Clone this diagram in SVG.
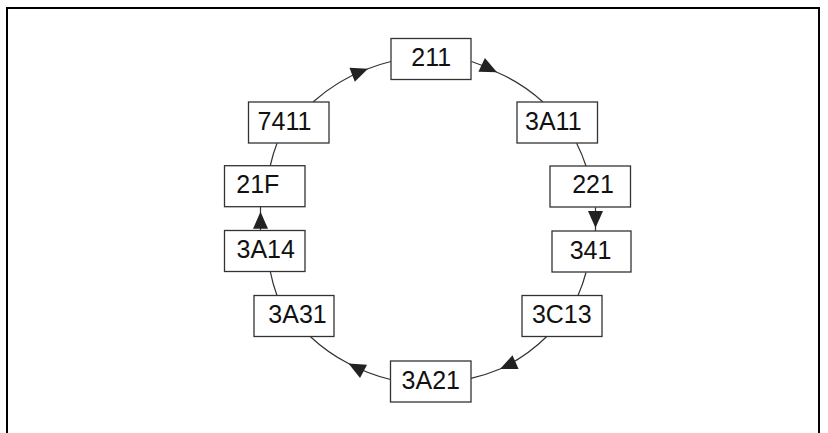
<svg xmlns="http://www.w3.org/2000/svg" width="828" height="433" viewBox="0 0 828 433">
<style>
.box{fill:#fff;stroke:#333;stroke-width:1.3}
.lbl{font-family:"Liberation Sans",Arial,sans-serif;font-size:25px;fill:#111;text-anchor:middle}
.con{fill:none;stroke:#333;stroke-width:1.2}
.frame{fill:none;stroke:#000;stroke-width:2}
</style>
<defs>
<marker id="ah" markerUnits="userSpaceOnUse" markerWidth="17" markerHeight="15" refX="17" refY="7.5" orient="auto" overflow="visible">
<path d="M0,0 L17,7.5 L0,15 z" fill="#222"/>
</marker>
</defs>
<rect width="828" height="433" fill="#fff"/>
<path class="frame" d="M7,440 L7,8 L819,8 L819,440"/>
<g id="connectors">
<path class="con" marker-mid="url(#ah)" d="M313,102 A168,161 0 0 1 368,68.7 A168,161 0 0 1 391,61.5"/>
<path class="con" marker-mid="url(#ah)" d="M471.5,61.5 A168,161 0 0 1 497,72.2 A168,161 0 0 1 543,102"/>
<path class="con" d="M576.6,143.3 A168,161 0 0 1 586,166"/>
<path class="con" marker-mid="url(#ah)" d="M595.5,207.3 L595.5,228 L595.5,231"/>
<path class="con" d="M586,272.5 A168,161 0 0 1 578,295.5"/>
<path class="con" marker-mid="url(#ah)" d="M546.5,336.7 A168,161 0 0 1 500,369 A168,161 0 0 1 471,378.3"/>
<path class="con" marker-mid="url(#ah)" d="M390.5,379.5 A168,161 0 0 1 348.5,363.5 A168,161 0 0 1 310.5,336.7"/>
<path class="con" d="M277,295.5 A168,161 0 0 1 270.3,271.7"/>
<path class="con" marker-mid="url(#ah)" d="M260.5,230 L260.5,211.7 L260.5,206.7"/>
<path class="con" d="M270.3,165.5 A168,161 0 0 1 277,143.3"/>
</g>
<g id="n211"><rect class="box" x="391" y="38.5" width="80" height="41"/><text class="lbl" x="431.3" y="66">211</text></g>
<g id="n3A11"><rect class="box" x="517" y="102" width="80.5" height="41"/><text class="lbl" x="553.3" y="130">3A11</text></g>
<g id="n221"><rect class="box" x="550" y="166" width="80.5" height="41"/><text class="lbl" x="593" y="192.5">221</text></g>
<g id="n341"><rect class="box" x="552" y="231" width="79" height="41"/><text class="lbl" x="590.5" y="258.5">341</text></g>
<g id="n3C13"><rect class="box" x="522" y="295.5" width="80" height="41"/><text class="lbl" x="561.8" y="323">3C13</text></g>
<g id="n3A21"><rect class="box" x="390.5" y="361" width="80.5" height="41"/><text class="lbl" x="430.8" y="388.5">3A21</text></g>
<g id="n3A31"><rect class="box" x="254" y="295.5" width="80" height="41"/><text class="lbl" x="297.5" y="323">3A31</text></g>
<g id="n3A14"><rect class="box" x="224.5" y="230.5" width="80.5" height="41"/><text class="lbl" x="265.7" y="258">3A14</text></g>
<g id="n21F"><rect class="box" x="224.5" y="165.7" width="80.5" height="41"/><text class="lbl" x="257.8" y="193">21F</text></g>
<g id="n7411"><rect class="box" x="248.5" y="102" width="80.5" height="41"/><text class="lbl" x="284.5" y="130">7411</text></g>
</svg>
